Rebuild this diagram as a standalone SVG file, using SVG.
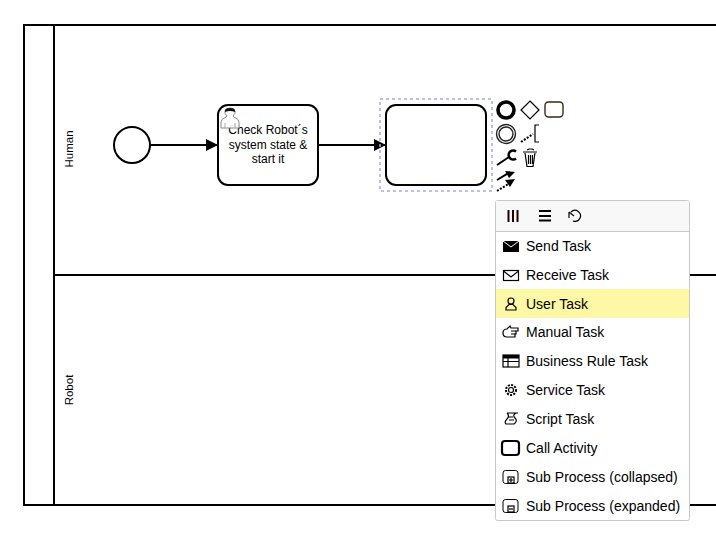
<svg xmlns="http://www.w3.org/2000/svg" width="716" height="544" viewBox="0 0 716 544">
<style>
text{font-family:"Liberation Sans",Arial,sans-serif;fill:#000}
.s{fill:none;stroke:#000;stroke-width:2}
.w{fill:#fff;stroke:#000;stroke-width:2}
.lane{font-size:11.5px;text-anchor:middle}
.tl{font-size:12px;text-anchor:middle}
.m{font-size:14px}
.i{fill:none;stroke:#000;stroke-width:1.2}
</style>
<defs>
<marker id="arr" markerUnits="userSpaceOnUse" markerWidth="13" markerHeight="14" refX="12" refY="7" orient="auto"><path d="M0 1L12 7L0 13Z" fill="#000"/></marker>
</defs>
<rect width="716" height="544" fill="#fff"/>
<g id="pool">
<path class="s" d="M716 25H24V505H716M54 25V505M54 275H716"/>
<text class="lane" transform="translate(73 149) rotate(-90)">Human</text>
<text class="lane" transform="translate(73 390) rotate(-90)">Robot</text>
</g>
<g id="connectors">
<path class="s" d="M150 145H218" marker-end="url(#arr)"/>
<path class="s" d="M318 145H386" marker-end="url(#arr)"/>
</g>
<g id="start"><circle class="w" cx="132" cy="145" r="18"/></g>
<g id="task1">
<rect class="w" x="218" y="105" width="100" height="80" rx="10"/>
<text class="tl" x="268" y="134">Check Robot´s</text>
<text class="tl" x="268" y="149">system state &amp;</text>
<text class="tl" x="268" y="163">start it</text>
<path d="M221 128V122Q221 119 226 117L227 116Q224 113 225 111Q226 108 230 108Q234 108 235 111Q236 113 233 116L234 117Q239 119 239 122V128Z" fill="#fff" fill-opacity=".9" stroke="#8a8a8a" stroke-width="1"/>
<path d="M225 112Q224 108 230 108Q236 108 235 112Q230 110 225 112Z" fill="#111"/>
<path d="M225 123V128M235 123V128" stroke="#aaa" stroke-width="1"/>
</g>
<g id="task2">
<rect x="380" y="99" width="112" height="92" fill="none" stroke="#a8a8f5" stroke-width="1.500" stroke-dasharray="3 3"/>
<rect class="w" x="386" y="105" width="100" height="80" rx="10"/>
</g>
<g id="context-pad">
<circle cx="506" cy="110" r="8" fill="none" stroke="#000" stroke-width="3.600"/>
<path d="M530 101L539 110L530 119L521 110Z" class="i" stroke-width="1.400"/>
<rect x="545" y="102" width="18" height="15" rx="3.500" fill="none" stroke="#3a2a10" stroke-width="1.400"/>
<circle cx="506" cy="134" r="9.500" fill="none" stroke="#222" stroke-width="1.400"/>
<circle cx="506" cy="134" r="7" fill="none" stroke="#222" stroke-width="1.400"/>
<path d="M521 142L533 134" class="s" stroke-dasharray="2 1.500"/>
<path d="M539 125H535V142H539" class="i" stroke-width="1.400"/>
<path d="M497 165L509 157" class="s" stroke-width="3.500"/>
<path d="M516 151.500A4.500 4.500 0 1 0 516 158.500" fill="none" stroke="#000" stroke-width="2.600"/>
<path d="M523 152H537M525 153L527 166.500H533L535 153" class="i" stroke-width="1.300"/>
<path d="M527 150L529 149H532L534 150" class="i" stroke-width="2"/>
<path d="M528.500 155V164M530.500 155V164M532.500 155V164" class="i" stroke-width=".9"/>
<path d="M497 180L510 172" class="s" stroke-width="1.400"/>
<path d="M505 171L515 172L509 178Z" fill="#000"/>
<path d="M497 191L510 183" class="s" stroke-width="1.400" stroke-dasharray="2 1.500"/>
<path d="M505 180L515 179L510 187Z" fill="#000"/>
</g>
<g id="popup-menu">
<rect x="495.500" y="200.500" width="194" height="320" rx="2" fill="#fff" stroke="#c8c8c8"/>
<rect x="496" y="201" width="193" height="31" fill="#f8f8f8"/>
<path d="M496 231.500H689" stroke="#c8c8c8"/>
<rect x="496" y="289" width="193" height="29" fill="#fdf8a6"/>
<path d="M508.500 210V222M513 210V222M517.500 210V222" fill="none" stroke="#200" stroke-width="2"/>
<path d="M539 211H551M539 216H551M539 220.500H551" fill="none" stroke="#000" stroke-width="2"/>
<path d="M573 221A5.500 5.500 0 1 0 571 212M569 212L574 216M569 212V218" class="i" stroke-width="1.700"/>
<rect x="503" y="241" width="16" height="11" fill="#000"/>
<path d="M503 241L511 247L519 241" fill="none" stroke="#fff" stroke-width="1"/>
<rect x="503.500" y="270.500" width="15" height="10" class="i" stroke-width="1"/>
<path d="M503.500 271L511 277L518.500 271" class="i" stroke-width="1"/>
<circle cx="511" cy="301" r="3" class="i"/>
<path d="M506 310V307.500L509 304.500H513L516 307.500V310Z" class="i"/>
<path d="M503 333Q503 329 507 329L510 326L511 328H518V331H516V334H515V337H507Q503 337 503 333Z" class="i"/>
<path d="M511 331H516M511 334H515" class="i" stroke-width=".9"/>
<rect x="503" y="355" width="16" height="12" class="i"/>
<rect x="503" y="355" width="16" height="3.500" fill="#000"/>
<path d="M503 361.500H519M508 358V367" class="i"/>
<circle cx="511" cy="390" r="2.500" class="i"/>
<circle cx="511" cy="390" r="5" fill="none" stroke="#000" stroke-width="2" stroke-dasharray="2 1.300"/>
<path d="M507 413H518M507 413Q510 416 507 419T506 424H514Q518 421 515 418T516 413M508 417H513M509 420H514" class="i"/>
<rect x="502" y="441" width="17" height="14" rx="3" fill="none" stroke="#000" stroke-width="2.200"/>
<rect x="503" y="470.500" width="15" height="13" rx="2.500" fill="none" stroke="#000" stroke-width="1"/>
<rect x="508" y="477" width="6" height="6" class="i" stroke-width=".8"/>
<path d="M509 480H513M511 478V482" class="i" stroke-width=".8"/>
<rect x="503" y="499.500" width="15" height="13" rx="2.500" fill="none" stroke="#000" stroke-width="1"/>
<rect x="508" y="506" width="6" height="6" class="i" stroke-width=".8"/>
<path d="M509 509H513" class="i" stroke-width=".8"/>
<text class="m" x="526" y="251">Send Task</text>
<text class="m" x="526" y="280">Receive Task</text>
<text class="m" x="526" y="309">User Task</text>
<text class="m" x="526" y="337">Manual Task</text>
<text class="m" x="526" y="366">Business Rule Task</text>
<text class="m" x="526" y="395">Service Task</text>
<text class="m" x="526" y="424">Script Task</text>
<text class="m" x="526" y="453">Call Activity</text>
<text class="m" x="526" y="482">Sub Process (collapsed)</text>
<text class="m" x="526" y="511">Sub Process (expanded)</text>
</g>
</svg>
